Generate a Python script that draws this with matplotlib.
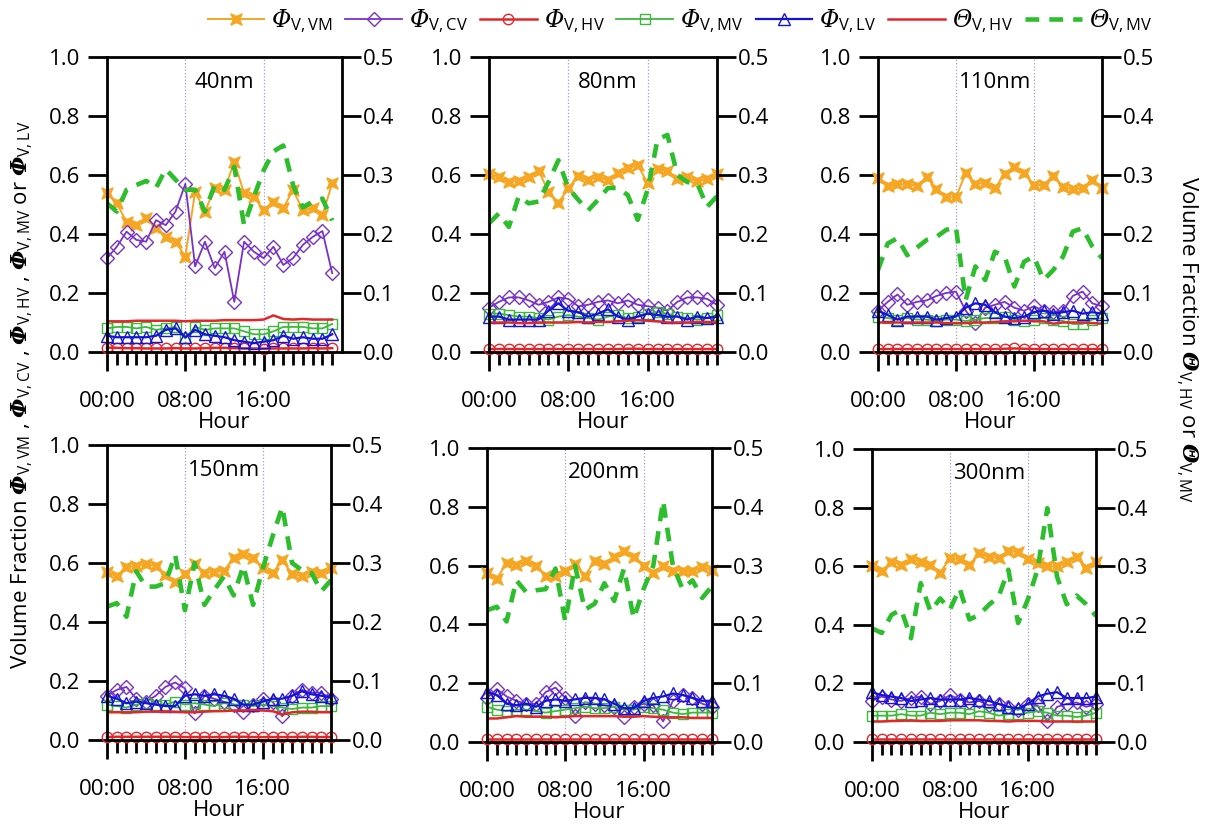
import matplotlib
matplotlib.use("Agg")
import matplotlib.pyplot as plt

plt.rcParams['font.family'] = ['Open Sans', 'DejaVu Sans']
plt.rcParams['mathtext.fontset'] = 'custom'
plt.rcParams['mathtext.rm'] = 'Open Sans'
plt.rcParams['mathtext.it'] = 'DejaVu Serif:italic'
plt.rcParams['mathtext.sf'] = 'DejaVu Serif:italic'
plt.rcParams['mathtext.bf'] = 'DejaVu Serif:bold'
plt.rcParams['mathtext.bfit'] = 'DejaVu Serif:italic:bold'

hours = list(range(24))
sizes = ['40nm', '80nm', '110nm', '150nm', '200nm', '300nm']

# left axis: volume fractions Phi
phi_vm = {
    '40nm': [0.538, 0.504, 0.44, 0.43, 0.453, 0.42, 0.39, 0.374, 0.323, 0.543, 0.476, 0.555,
             0.55, 0.645, 0.538, 0.527, 0.48, 0.51, 0.487, 0.55, 0.48, 0.487, 0.464, 0.572],
    '80nm': [0.603, 0.592, 0.577, 0.58, 0.592, 0.615, 0.543, 0.506, 0.555, 0.597, 0.583, 0.594,
             0.583, 0.608, 0.623, 0.634, 0.572, 0.619, 0.615, 0.585, 0.592, 0.58, 0.585, 0.603],
    '110nm': [0.589, 0.563, 0.569, 0.569, 0.563, 0.594, 0.551, 0.524, 0.524, 0.606, 0.569, 0.574,
              0.555, 0.603, 0.628, 0.606, 0.566, 0.566, 0.597, 0.56, 0.551, 0.555, 0.583, 0.555],
    '150nm': [0.571, 0.556, 0.585, 0.59, 0.597, 0.59, 0.559, 0.537, 0.563, 0.597, 0.565, 0.571,
              0.574, 0.616, 0.63, 0.616, 0.582, 0.565, 0.61, 0.563, 0.556, 0.571, 0.565, 0.582],
    '200nm': [0.575, 0.555, 0.609, 0.602, 0.614, 0.6, 0.566, 0.566, 0.58, 0.606, 0.566, 0.614,
              0.606, 0.628, 0.651, 0.628, 0.6, 0.575, 0.6, 0.583, 0.583, 0.58, 0.594, 0.586],
    '300nm': [0.599, 0.582, 0.616, 0.605, 0.624, 0.616, 0.605, 0.578, 0.627, 0.624, 0.605, 0.644,
              0.633, 0.627, 0.653, 0.647, 0.624, 0.612, 0.599, 0.599, 0.616, 0.631, 0.593, 0.616],
}
phi_cv = {
    '40nm': [0.318, 0.357, 0.408, 0.38, 0.374, 0.447, 0.43, 0.476, 0.57, 0.29, 0.374, 0.284,
             0.34, 0.17, 0.374, 0.34, 0.318, 0.357, 0.295, 0.318, 0.363, 0.39, 0.41, 0.267],
    '80nm': [0.15, 0.17, 0.185, 0.185, 0.175, 0.16, 0.17, 0.185, 0.18, 0.155, 0.16, 0.17,
             0.175, 0.165, 0.175, 0.16, 0.155, 0.15, 0.14, 0.17, 0.185, 0.185, 0.18, 0.16],
    '110nm': [0.14, 0.17, 0.195, 0.16, 0.17, 0.175, 0.19, 0.2, 0.205, 0.14, 0.1, 0.15,
              0.16, 0.17, 0.15, 0.14, 0.155, 0.14, 0.135, 0.14, 0.19, 0.205, 0.165, 0.155],
    '150nm': [0.15, 0.17, 0.18, 0.14, 0.13, 0.15, 0.18, 0.195, 0.175, 0.09, 0.15, 0.14,
              0.13, 0.12, 0.095, 0.12, 0.14, 0.13, 0.08, 0.15, 0.17, 0.16, 0.16, 0.14],
    '200nm': [0.15, 0.18, 0.155, 0.14, 0.13, 0.13, 0.17, 0.185, 0.15, 0.09, 0.135, 0.13,
              0.125, 0.12, 0.085, 0.12, 0.13, 0.125, 0.07, 0.14, 0.16, 0.15, 0.13, 0.12],
    '300nm': [0.14, 0.155, 0.145, 0.14, 0.15, 0.155, 0.13, 0.14, 0.16, 0.145, 0.135, 0.14,
              0.125, 0.13, 0.12, 0.11, 0.13, 0.125, 0.07, 0.12, 0.13, 0.135, 0.12, 0.13],
}
phi_hv = {
    '40nm': [0.015, 0.014, 0.013, 0.013, 0.012, 0.012, 0.012, 0.013, 0.012, 0.012, 0.013, 0.014,
             0.014, 0.013, 0.012, 0.012, 0.011, 0.012, 0.012, 0.012, 0.012, 0.013, 0.012, 0.013],
    '80nm': [0.01, 0.01, 0.01, 0.01, 0.01, 0.01, 0.01, 0.01, 0.01, 0.01, 0.01, 0.01,
             0.01, 0.01, 0.011, 0.011, 0.01, 0.01, 0.01, 0.01, 0.01, 0.01, 0.01, 0.01],
    '110nm': [0.01, 0.01, 0.01, 0.01, 0.01, 0.01, 0.01, 0.01, 0.01, 0.01, 0.01, 0.01,
              0.01, 0.011, 0.012, 0.011, 0.01, 0.01, 0.01, 0.01, 0.01, 0.01, 0.01, 0.01],
    '150nm': [0.01, 0.011, 0.011, 0.011, 0.011, 0.011, 0.011, 0.011, 0.01, 0.01, 0.01, 0.01,
              0.01, 0.011, 0.011, 0.01, 0.01, 0.01, 0.01, 0.01, 0.011, 0.011, 0.01, 0.01],
    '200nm': [0.01, 0.01, 0.01, 0.01, 0.01, 0.01, 0.01, 0.01, 0.01, 0.01, 0.01, 0.01,
              0.01, 0.01, 0.01, 0.01, 0.01, 0.01, 0.01, 0.01, 0.01, 0.01, 0.01, 0.01],
    '300nm': [0.01, 0.01, 0.01, 0.01, 0.01, 0.01, 0.01, 0.01, 0.01, 0.01, 0.01, 0.01,
              0.01, 0.01, 0.01, 0.01, 0.01, 0.01, 0.01, 0.01, 0.01, 0.01, 0.01, 0.01],
}
phi_mv = {
    '40nm': [0.08, 0.085, 0.085, 0.08, 0.085, 0.075, 0.08, 0.085, 0.046, 0.085, 0.075, 0.08,
             0.08, 0.08, 0.07, 0.06, 0.06, 0.07, 0.085, 0.085, 0.085, 0.08, 0.08, 0.095],
    '80nm': [0.13, 0.13, 0.125, 0.12, 0.12, 0.115, 0.11, 0.12, 0.125, 0.12, 0.115, 0.11,
             0.12, 0.125, 0.115, 0.12, 0.13, 0.135, 0.13, 0.12, 0.115, 0.11, 0.115, 0.125],
    '110nm': [0.12, 0.115, 0.11, 0.115, 0.11, 0.11, 0.105, 0.11, 0.11, 0.105, 0.11, 0.115,
              0.115, 0.12, 0.11, 0.105, 0.11, 0.115, 0.11, 0.105, 0.095, 0.095, 0.11, 0.115],
    '150nm': [0.12, 0.115, 0.11, 0.12, 0.125, 0.12, 0.12, 0.13, 0.12, 0.125, 0.12, 0.115,
              0.125, 0.12, 0.12, 0.115, 0.12, 0.115, 0.11, 0.105, 0.11, 0.11, 0.115, 0.115],
    '200nm': [0.12, 0.11, 0.105, 0.11, 0.11, 0.105, 0.1, 0.105, 0.11, 0.115, 0.12, 0.115,
              0.115, 0.12, 0.11, 0.11, 0.12, 0.115, 0.11, 0.1, 0.095, 0.1, 0.1, 0.1],
    '300nm': [0.09, 0.09, 0.09, 0.095, 0.09, 0.09, 0.1, 0.095, 0.1, 0.1, 0.095, 0.105,
              0.1, 0.09, 0.095, 0.095, 0.1, 0.105, 0.1, 0.09, 0.09, 0.085, 0.09, 0.1],
}
phi_lv = {
    '40nm': [0.055, 0.05, 0.05, 0.05, 0.05, 0.055, 0.075, 0.08, 0.05, 0.075, 0.06, 0.055,
             0.05, 0.04, 0.035, 0.03, 0.035, 0.04, 0.055, 0.045, 0.05, 0.045, 0.045, 0.06],
    '80nm': [0.12, 0.12, 0.11, 0.11, 0.11, 0.11, 0.14, 0.165, 0.14, 0.135, 0.12, 0.13,
             0.145, 0.12, 0.11, 0.12, 0.13, 0.125, 0.12, 0.12, 0.11, 0.12, 0.115, 0.12],
    '110nm': [0.14, 0.125, 0.11, 0.12, 0.12, 0.12, 0.11, 0.115, 0.12, 0.15, 0.165, 0.16,
              0.135, 0.12, 0.115, 0.12, 0.135, 0.14, 0.13, 0.135, 0.14, 0.13, 0.135, 0.13],
    '150nm': [0.15, 0.14, 0.125, 0.13, 0.125, 0.12, 0.115, 0.115, 0.15, 0.155, 0.15, 0.155,
              0.15, 0.14, 0.12, 0.12, 0.13, 0.14, 0.14, 0.15, 0.165, 0.155, 0.15, 0.145],
    '200nm': [0.17, 0.16, 0.13, 0.125, 0.13, 0.12, 0.14, 0.145, 0.14, 0.145, 0.15, 0.15,
              0.145, 0.13, 0.115, 0.115, 0.14, 0.15, 0.155, 0.165, 0.16, 0.15, 0.14, 0.14],
    '300nm': [0.17, 0.16, 0.155, 0.15, 0.14, 0.145, 0.15, 0.145, 0.145, 0.145, 0.15, 0.145,
              0.14, 0.13, 0.12, 0.115, 0.13, 0.155, 0.165, 0.17, 0.15, 0.15, 0.15, 0.155],
}

# right axis: Theta
theta_hv = {
    '40nm': [0.052, 0.052, 0.052, 0.053, 0.053, 0.053, 0.053, 0.053, 0.052, 0.053, 0.053, 0.053,
             0.054, 0.054, 0.054, 0.054, 0.055, 0.062, 0.056, 0.055, 0.056, 0.055, 0.055, 0.055],
    '80nm': [0.05, 0.05, 0.05, 0.049, 0.049, 0.05, 0.05, 0.05, 0.05, 0.051, 0.05, 0.051,
             0.051, 0.052, 0.053, 0.054, 0.053, 0.052, 0.05, 0.05, 0.05, 0.051, 0.051, 0.05],
    '110nm': [0.05, 0.05, 0.05, 0.05, 0.05, 0.05, 0.05, 0.049, 0.049, 0.049, 0.05, 0.05,
              0.051, 0.052, 0.052, 0.053, 0.052, 0.052, 0.048, 0.05, 0.05, 0.05, 0.049, 0.048],
    '150nm': [0.047, 0.047, 0.047, 0.047, 0.048, 0.048, 0.048, 0.048, 0.047, 0.047, 0.048, 0.049,
              0.049, 0.05, 0.05, 0.051, 0.05, 0.049, 0.043, 0.047, 0.048, 0.048, 0.047, 0.047],
    '200nm': [0.04, 0.04, 0.042, 0.044, 0.043, 0.043, 0.043, 0.042, 0.043, 0.044, 0.044, 0.044,
              0.044, 0.044, 0.043, 0.043, 0.044, 0.043, 0.042, 0.042, 0.042, 0.041, 0.041, 0.041],
    '300nm': [0.035, 0.035, 0.036, 0.036, 0.037, 0.036, 0.036, 0.036, 0.037, 0.037, 0.037, 0.037,
              0.036, 0.036, 0.035, 0.036, 0.036, 0.036, 0.035, 0.035, 0.035, 0.035, 0.035, 0.035],
}
theta_mv = {
    '40nm': [0.252, 0.238, 0.275, 0.283, 0.29, 0.278, 0.31, 0.292, 0.275, 0.275, 0.238, 0.283,
             0.275, 0.314, 0.215, 0.263, 0.308, 0.34, 0.35, 0.283, 0.245, 0.255, 0.26, 0.223],
    '80nm': [0.218, 0.235, 0.212, 0.264, 0.252, 0.255, 0.288, 0.325, 0.278, 0.258, 0.24, 0.258,
             0.278, 0.278, 0.266, 0.224, 0.275, 0.36, 0.368, 0.3, 0.288, 0.286, 0.246, 0.264],
    '110nm': [0.139, 0.184, 0.193, 0.164, 0.177, 0.19, 0.195, 0.207, 0.212, 0.088, 0.145, 0.122,
              0.17, 0.162, 0.111, 0.153, 0.162, 0.122, 0.139, 0.162, 0.204, 0.21, 0.179, 0.159],
    '150nm': [0.226, 0.232, 0.209, 0.286, 0.26, 0.26, 0.266, 0.314, 0.22, 0.3, 0.229, 0.254,
              0.277, 0.245, 0.295, 0.229, 0.291, 0.345, 0.395, 0.3, 0.288, 0.283, 0.252, 0.271],
    '200nm': [0.224, 0.23, 0.205, 0.275, 0.255, 0.258, 0.26, 0.295, 0.205, 0.3, 0.225, 0.235,
              0.27, 0.24, 0.295, 0.21, 0.26, 0.3, 0.41, 0.3, 0.26, 0.275, 0.245, 0.265],
    '300nm': [0.194, 0.186, 0.217, 0.226, 0.177, 0.271, 0.223, 0.245, 0.226, 0.262, 0.209, 0.217,
              0.234, 0.248, 0.294, 0.203, 0.243, 0.294, 0.399, 0.282, 0.235, 0.25, 0.235, 0.215],
}

# panel boxes in pixels: left, right, top, bottom
boxes = {
    '40nm': (107, 342, 57, 352),
    '80nm': (489, 717, 57, 352),
    '110nm': (878, 1102, 57, 352),
    '150nm': (107, 331, 445, 740),
    '200nm': (487, 712, 448, 742),
    '300nm': (872, 1096, 449, 742),
}
xmax = {'40nm': 24, '80nm': 23, '110nm': 23, '150nm': 23, '200nm': 23, '300nm': 23}

orange = '#F5A623'
purple = '#7A32C6'
red = '#E3262A'
green = '#3CB83C'
green2 = '#2DBE2D'
blue = '#1414D4'
bowtie = [(-1, -1), (0, -0.55), (1, -1), (0.55, 0), (1, 1), (0, 0.55), (-1, 1), (-0.55, 0), (-1, -1)]

W, H = 1213, 827
fs = 16
fig = plt.figure(figsize=(W / 100, H / 100), dpi=100)

handles = []
for s in sizes:
    l, r, t, b = boxes[s]
    ax = fig.add_axes([l / W, 1 - b / H, (r - l) / W, (b - t) / H])
    ax2 = ax.twinx()

    h1, = ax.plot(hours, phi_vm[s], color=orange, marker=bowtie, ms=8, lw=1.4, clip_on=False)
    h2, = ax.plot(hours, phi_cv[s], color=purple, marker='D', ms=7.5, mfc='none', mew=1, lw=1.3, clip_on=False)
    h3, = ax.plot(hours, phi_hv[s], color=red, marker='o', ms=7.5, mfc='none', mew=1, lw=1.8, clip_on=False)
    h4, = ax.plot(hours, phi_mv[s], color=green, marker='s', ms=7, mfc='none', mew=1, lw=1.3, clip_on=False)
    h5, = ax.plot(hours, phi_lv[s], color=blue, marker='^', ms=8, mfc='none', mew=1, lw=1.6, clip_on=False)
    h6, = ax2.plot(hours, theta_hv[s], color=red, lw=1.8)
    h7, = ax2.plot(hours, theta_mv[s], color=green2, lw=3.3, dashes=(3.0, 2.2))
    if not handles:
        handles = [h1, h2, h3, h4, h5, h6, h7]

    for xv in (8, 16):
        ax.axvline(xv, color='#9c9cd2', ls=':', lw=0.9, zorder=0)

    ax.set_xlim(0, xmax[s])
    ax.set_ylim(0, 1)
    ax2.set_ylim(0, 0.5)

    ax.set_xticks([0, 8, 16])
    ax.set_xticklabels(['00:00', '08:00', '16:00'])
    ax.set_xticks([h for h in hours if h % 8], minor=True)
    ax.set_yticks([0, 0.2, 0.4, 0.6, 0.8, 1.0])
    ax.yaxis.set_major_formatter('{x:.1f}')
    ax2.set_yticks([0, 0.1, 0.2, 0.3, 0.4, 0.5])
    ax2.yaxis.set_major_formatter('{x:.1f}')

    ax.tick_params(axis='x', which='major', length=14, width=2, pad=14, labelsize=fs)
    ax.tick_params(axis='x', which='minor', length=9, width=2)
    ax.tick_params(axis='y', length=14, width=2, pad=5, labelsize=fs)
    ax2.tick_params(axis='y', length=14, width=2, pad=1, labelsize=fs)
    for sp in ax2.spines.values():
        sp.set_linewidth(2)

    ax.set_xlabel('Hour', fontsize=fs, labelpad=0)
    ax.text(12, 0.915, s, transform=ax.get_xaxis_transform(), ha='center', va='center', fontsize=fs)

labels = [r'$\mathsf{\Phi}_{\mathrm{V,VM}}$', r'$\mathsf{\Phi}_{\mathrm{V,CV}}$',
          r'$\mathsf{\Phi}_{\mathrm{V,HV}}$', r'$\mathsf{\Phi}_{\mathrm{V,MV}}$',
          r'$\mathsf{\Phi}_{\mathrm{V,LV}}$', r'$\mathsf{\Theta}_{\mathrm{V,HV}}$',
          r'$\mathsf{\Theta}_{\mathrm{V,MV}}$']
fig.legend(handles, labels, loc='upper center', bbox_to_anchor=(680 / W, 1.005), ncol=7,
           frameon=False, fontsize=17, handlelength=2.4, handletextpad=0.3,
           columnspacing=0.5, borderaxespad=0.1)

fig.text(22 / W, 1 - 395 / H,
         r'Volume Fraction $\mathbfit{\Phi}_{\mathrm{V,VM}}$ , $\mathbfit{\Phi}_{\mathrm{V,CV}}$ , '
         r'$\mathbfit{\Phi}_{\mathrm{V,HV}}$ , $\mathbfit{\Phi}_{\mathrm{V,MV}}$ or $\mathbfit{\Phi}_{\mathrm{V,LV}}$',
         rotation=90, ha='center', va='center', fontsize=fs)
fig.text(1187 / W, 1 - 340 / H,
         r'Volume Fraction $\mathbfit{\Theta}_{\mathrm{V,HV}}$ or $\mathbfit{\Theta}_{\mathrm{V,MV}}$',
         rotation=270, ha='center', va='center', fontsize=fs)

fig.savefig('out.png', dpi=100)
